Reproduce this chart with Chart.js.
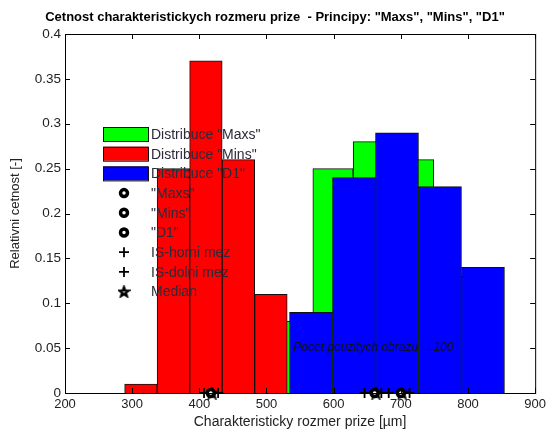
<!DOCTYPE html>
<html>
<head>
<meta charset="utf-8">
<title>Cetnost charakteristickych rozmeru prize</title>
<script src="https://cdn.jsdelivr.net/npm/chart.js@4.4.0/dist/chart.umd.min.js"></script>
<style>
  html, body { margin: 0; padding: 0; background: #fff; }
</style>
</head>
<body>
<canvas id="histChart" width="550" height="432"></canvas>
<script>
//************************************   DATA    ****************************************** */
// bin edges [um] and relative frequencies
const maxsEdges = [509, 569, 629, 689, 749, 809];
const maxsRel   = [0.08, 0.25, 0.28, 0.26, 0.13];
const minsEdges = [288.8, 337.2, 385.6, 434.0, 482.4, 530.8];
const minsRel   = [0.01, 0.25, 0.37, 0.26, 0.11];
const d1Edges   = [534.3, 598.3, 662.3, 726.3, 790.3, 854.3];
const d1Rel     = [0.09, 0.24, 0.29, 0.23, 0.14];

// markers on the x axis: "Maxs", "Mins", "D1"
const meanVals   = [661, 417, 700];
const isUpper    = [671, 428, 713];
const isLower    = [646, 407, 682];
const medianVals = [663, 419, 702];

const xTicks = [200, 300, 400, 500, 600, 700, 800, 900];
const xTickLabels = ['200', '300', '400', '500', '600', '700', '800', '900'];
const yTicks = [0, 0.05, 0.1, 0.15, 0.2, 0.25, 0.3, 0.35, 0.4];
const yTickLabels = ['0', '0.05', '0.1', '0.15', '0.2', '0.25', '0.3', '0.35', '0.4'];

const noteText = 'Pocet pouzitych obrazu \u2192100';
const noteX = 540;
const noteY = 0.05;

//************************************   HELPERS    ****************************************** */
const FONT = '"Liberation Sans", Arial, Helvetica, sans-serif';
const TEXT_COLOR = '#222';

function histPoints(edges, rel) {
  return rel.map((v, i) => ({x: (edges[i] + edges[i + 1]) / 2, y: v}));
}
function axisPoints(vals) {
  return vals.map(v => ({x: v, y: 0}));
}
// MATLAB-like pentagram marker
function pentagram(size, lw) {
  const c = document.createElement('canvas');
  c.width = c.height = size;
  const g = c.getContext('2d');
  const r = size / 2 - lw / 2 - 0.5;
  g.beginPath();
  for (let k = 0; k < 10; k++) {
    const rr = k % 2 ? r * 0.42 : r;
    const a = -Math.PI / 2 + k * Math.PI / 5;
    const px = size / 2 + rr * Math.cos(a);
    const py = size / 2 + 0.5 + rr * Math.sin(a);
    k ? g.lineTo(px, py) : g.moveTo(px, py);
  }
  g.closePath();
  g.lineWidth = lw;
  g.strokeStyle = '#000';
  g.lineJoin = 'miter';
  g.stroke();
  return c;
}
const starImg = pentagram(13, 2.4);

function barSet(label, edges, rel, color, axisId, order) {
  return {
    type: 'bar', label: label, data: histPoints(edges, rel), xAxisID: axisId,
    backgroundColor: color, borderColor: '#111', borderWidth: 1,
    barPercentage: 1, categoryPercentage: 1, grouped: false, order: order
  };
}
function markerSet(label, vals, style, radius, bw) {
  return {
    type: 'scatter', label: label, data: axisPoints(vals), xAxisID: 'x',
    pointStyle: style, pointRadius: radius, pointHoverRadius: radius,
    pointBorderWidth: bw, pointBorderColor: '#000', pointBackgroundColor: '#fff',
    clip: false, order: 0
  };
}

//************************************   PLUGINS    ****************************************** */
// box + inward ticks on all four sides
const boxPlugin = {
  id: 'matlabBox',
  afterDatasetsDraw(chart) {
    const {ctx, chartArea: a, scales} = chart;
    ctx.save();
    ctx.strokeStyle = '#000';
    ctx.lineWidth = 1;
    ctx.beginPath();
    xTicks.forEach(v => {
      const px = Math.round(scales.x.getPixelForValue(v)) + 0.5;
      ctx.moveTo(px, a.bottom); ctx.lineTo(px, a.bottom - 5);
      ctx.moveTo(px, a.top); ctx.lineTo(px, a.top + 5);
    });
    yTicks.forEach(v => {
      const py = Math.round(scales.y.getPixelForValue(v)) + 0.5;
      ctx.moveTo(a.left, py); ctx.lineTo(a.left + 5, py);
      ctx.moveTo(a.right, py); ctx.lineTo(a.right - 5, py);
    });
    ctx.stroke();
    ctx.strokeRect(a.left + 0.5, a.top + 0.5, a.right - a.left, a.bottom - a.top);

    ctx.fillStyle = '#111';
    ctx.font = 'italic 12px ' + FONT;
    ctx.textBaseline = 'middle';
    ctx.fillText(noteText, scales.x.getPixelForValue(noteX), scales.y.getPixelForValue(noteY));
    ctx.restore();
  }
};

// legend inside the axes, no frame
const legendPlugin = {
  id: 'matlabLegend',
  afterDraw(chart) {
    const ctx = chart.ctx;
    ctx.save();
    ctx.font = '14px ' + FONT;
    ctx.textBaseline = 'middle';
    chart.data.datasets.forEach((ds, row) => {
      const y = 134 + row * 19.7;
      if (ds.type === 'bar') {
        ctx.fillStyle = ds.backgroundColor;
        ctx.fillRect(103, y - 7, 45, 14);
        ctx.strokeStyle = '#111';
        ctx.lineWidth = 1;
        ctx.strokeRect(103.5, y - 6.5, 45, 14);
      } else {
        ctx.fillStyle = ds.pointBackgroundColor;
        ctx.strokeStyle = ds.pointBorderColor;
        ctx.lineWidth = ds.pointBorderWidth;
        Chart.helpers.drawPoint(ctx, {pointStyle: ds.pointStyle, radius: ds.pointRadius,
          borderWidth: ds.pointBorderWidth, rotation: 0}, 124, y);
      }
      ctx.fillStyle = '#2a2a3a';
      ctx.fillText(ds.label, 151, y + 1);
    });
    ctx.restore();
  }
};

//************************************   CHART    ****************************************** */
const hiddenX = () => ({type: 'linear', display: false, offset: false, min: 200, max: 900, ticks: {stepSize: 100}});

const histChart = new Chart(document.getElementById('histChart').getContext('2d'), {
  data: {
    datasets: [
      barSet('Distribuce "Maxs"', maxsEdges, maxsRel, '#00ff00', 'xMaxs', 3),
      barSet('Distribuce "Mins"', minsEdges, minsRel, '#ff0000', 'x', 2),
      barSet('Distribuce "D1"', d1Edges, d1Rel, '#0000ff', 'xD1', 1),
      markerSet('"Maxs"', [meanVals[0]], 'circle', 3.5, 3.5),
      markerSet('"Mins"', [meanVals[1]], 'circle', 3.5, 3.5),
      markerSet('"D1"', [meanVals[2]], 'circle', 3.5, 3.5),
      markerSet('IS-horni mez', isUpper, 'cross', 5, 1.8),
      markerSet('IS-dolni mez', isLower, 'cross', 5, 1.8),
      markerSet('Median', medianVals, starImg, 6, 0)
    ]
  },
  options: {
    responsive: false,
    animation: false,
    layout: {padding: 0},
    plugins: {
      legend: {display: false},
      tooltip: {enabled: false},
      title: {
        display: true,
        text: 'Cetnost charakteristickych rozmeru prize  - Principy: "Maxs", "Mins", "D1"',
        color: '#000',
        font: {family: FONT, size: 13, weight: 'bold', lineHeight: 1.2},
        padding: {top: 10, bottom: 8.4}
      }
    },
    scales: {
      x: {
        type: 'linear', position: 'bottom', min: 200, max: 900, offset: false,
        grid: {display: false, drawTicks: false}, border: {display: false},
        afterBuildTicks: s => { s.ticks = xTicks.map(v => ({value: v})); },
        afterFit: s => { s.height = 39; },
        ticks: {
          padding: 4, color: TEXT_COLOR, maxRotation: 0, autoSkip: false,
          font: {family: FONT, size: 13},
          callback: (v, i) => xTickLabels[i]
        },
        title: {
          display: true, text: 'Charakteristicky rozmer prize [\u00b5m]', color: TEXT_COLOR,
          font: {family: FONT, size: 14, lineHeight: 1.2}, padding: {top: 0, bottom: 1}
        }
      },
      xMaxs: hiddenX(),
      xD1: hiddenX(),
      y: {
        type: 'linear', position: 'left', min: 0, max: 0.4,
        grid: {display: false, drawTicks: false}, border: {display: false},
        afterBuildTicks: s => { s.ticks = yTicks.map(v => ({value: v})); },
        afterFit: s => { s.width = 65; },
        ticks: {
          padding: 4, color: TEXT_COLOR, autoSkip: false,
          font: {family: FONT, size: 13.5},
          callback: (v, i) => yTickLabels[i]
        },
        title: {
          display: true, text: 'Relativni cetnost [-]', color: TEXT_COLOR,
          font: {family: FONT, size: 13, lineHeight: 1.2}, padding: {top: 8, bottom: 0}
        }
      },
      // empty right margin so the title centres on the whole figure
      yRight: {
        type: 'linear', position: 'right', min: 0, max: 0.4,
        grid: {display: false, drawTicks: false}, border: {display: false},
        ticks: {display: false},
        afterFit: s => { s.width = 14; }
      }
    }
  },
  plugins: [boxPlugin, legendPlugin]
});
</script>
</body>
</html>
